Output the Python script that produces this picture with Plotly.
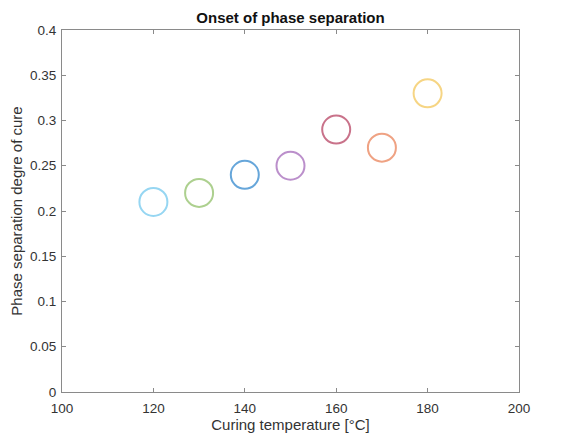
import plotly.graph_objects as go

temps = [120, 130, 140, 150, 160, 170, 180]
doc = [0.21, 0.22, 0.24, 0.25, 0.29, 0.27, 0.33]
colors = ["#96d6f2", "#add08f", "#66a6da", "#bb8fcb", "#c9728a", "#efa283", "#f6d584"]
xticks = [100, 120, 140, 160, 180, 200]
yticks = [0, 0.05, 0.1, 0.15, 0.2, 0.25, 0.3, 0.35, 0.4]

FONT = "Liberation Sans, Arial"
W, H = 559, 425

fig = go.Figure()
fig.add_trace(go.Scatter(
    x=temps, y=doc, mode="markers",
    marker=dict(symbol="circle-open", size=28, color=colors,
                line=dict(width=2, color=colors)),
    showlegend=False,
))

axis_common = dict(
    showgrid=False, zeroline=False, showline=True, mirror="ticks",
    linecolor="#8a8a8a", linewidth=1, ticks="inside", ticklen=4, automargin=False,
    tickcolor="#8a8a8a", tickfont=dict(family=FONT, size=13.5, color="#333"),
)
fig.update_xaxes(range=[100, 200], tickvals=xticks, ticktext=[str(v) for v in xticks],
                 ticklabelstandoff=4,
                 title=dict(text="Curing temperature [°C]", standoff=3,
                            font=dict(family=FONT, size=15, color="#333")),
                 **axis_common)
fig.update_yaxes(range=[0, 0.4], tickvals=yticks, ticktext=[f"{v:g}" for v in yticks],
                 ticklabelstandoff=2,
                 title=dict(text="Phase separation degre of cure", standoff=5,
                            font=dict(family=FONT, size=15, color="#333")),
                 **axis_common)
fig.update_layout(
    width=W, height=H,
    margin=dict(l=54, r=48, t=22, b=41),
    plot_bgcolor="white", paper_bgcolor="white",
    title=dict(text="<b>Onset of phase separation</b>", x=0.5, xref="paper", xanchor="center",
               y=1 - 10 / H, yref="container", yanchor="middle",
               font=dict(family=FONT, size=15, color="#111")),
)
fig.write_html("out.html")
